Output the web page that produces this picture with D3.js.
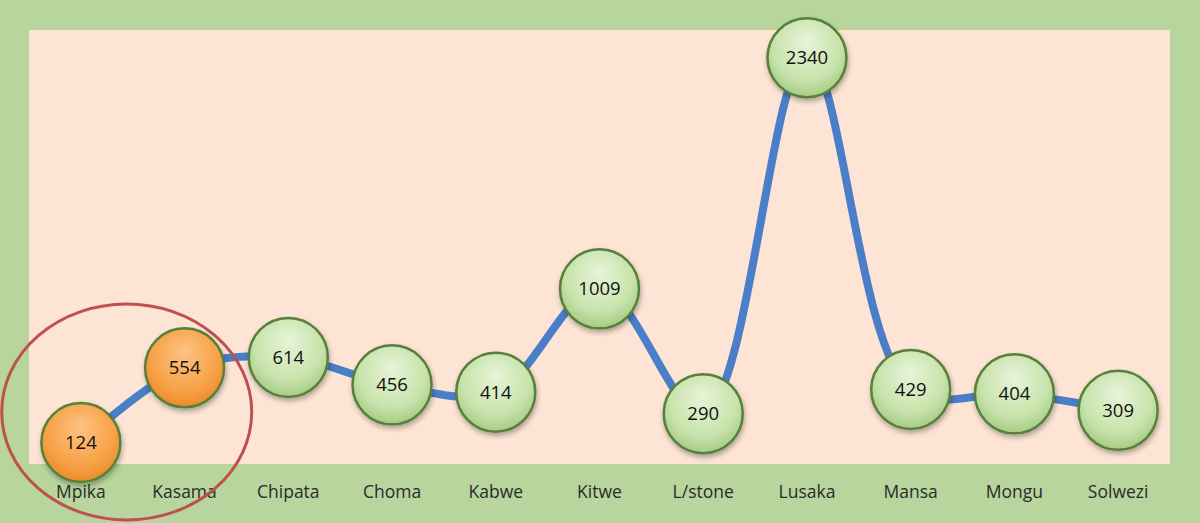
<!DOCTYPE html>
<html>
<head>
<meta charset="utf-8">
<script src="https://cdn.jsdelivr.net/npm/d3@7"></script>
<style>
  html, body { margin: 0; padding: 0; background: #b7d59d; }
  svg { display: block; }
</style>
</head>
<body>
<div id="chart"></div>
<script>
var towns = ["Mpika", "Kasama", "Chipata", "Choma", "Kabwe", "Kitwe", "L/stone", "Lusaka", "Mansa", "Mongu", "Solwezi"];
var counts = [124, 554, 614, 456, 414, 1009, 290, 2340, 429, 404, 309];
var highlighted = ["Mpika", "Kasama"];

var width = 1200, height = 523;
var plot = {left: 29, top: 30, right: 1170, bottom: 464};

var svg = d3.select("#chart")
            .append("svg")
            .attr("width", width)
            .attr("height", height);

var defs = svg.append("defs");
function ballGradient(id, light, mid, dark) {
    var g = defs.append("radialGradient")
                .attr("id", id)
                .attr("cx", "50%").attr("cy", "40%").attr("r", "60%")
                .attr("fx", "50%").attr("fy", "28%");
    g.append("stop").attr("offset", "0%").attr("stop-color", light);
    g.append("stop").attr("offset", "70%").attr("stop-color", mid);
    g.append("stop").attr("offset", "100%").attr("stop-color", dark);
}
ballGradient("greenBall", "#e8f4d9", "#c8e3ac", "#a5cc84");
ballGradient("orangeBall", "#fcc384", "#f8a247", "#ec8b28");

var shadow = defs.append("filter").attr("id", "shadow")
                .attr("x", "-30%").attr("y", "-30%").attr("width", "160%").attr("height", "160%");
shadow.append("feDropShadow")
      .attr("dx", 1).attr("dy", 3).attr("stdDeviation", 2.5)
      .attr("flood-color", "#000").attr("flood-opacity", 0.3);

// plot area
svg.append("rect")
   .attr("x", plot.left).attr("y", plot.top)
   .attr("width", plot.right - plot.left)
   .attr("height", plot.bottom - plot.top)
   .attr("fill", "#fde4d4");

var x = d3.scaleBand()
          .domain(towns)
          .range([plot.left, plot.right]);
var y = d3.scaleLinear()
          .domain([0, 2500])
          .range([plot.bottom, plot.top]);

var data = towns.map(function(t, i){ return {town: t, count: counts[i]}; });
var cx = function(d){ return x(d.town) + x.bandwidth() / 2; };

// smoothed line
var line = d3.line()
             .x(cx)
             .y(function(d){ return y(d.count); })
             .curve(d3.curveCatmullRom.alpha(0.5));

svg.append("path")
   .datum(data)
   .attr("d", line)
   .attr("fill", "none")
   .attr("stroke", "#4a7ec9")
   .attr("stroke-width", 8);

// category labels
svg.selectAll("text.cat")
   .data(data)
   .enter()
   .append("text")
   .attr("class", "cat")
   .attr("x", cx)
   .attr("y", 498)
   .attr("text-anchor", "middle")
   .attr("font-family", "'Open Sans', 'Noto Sans', sans-serif")
   .attr("font-size", "17.5px")
   .attr("fill", "#2b2b2b")
   .text(function(d){ return d.town; });

// markers
var g = svg.selectAll("g.pt")
           .data(data)
           .enter()
           .append("g")
           .attr("class", "pt")
           .attr("transform", function(d){ return "translate(" + cx(d) + "," + y(d.count) + ")"; });

g.append("circle")
 .attr("r", 39.5)
 .attr("fill", function(d){ return highlighted.indexOf(d.town) >= 0 ? "url(#orangeBall)" : "url(#greenBall)"; })
 .attr("stroke", "#56803a")
 .attr("stroke-width", 2.5)
 .attr("filter", "url(#shadow)");

g.append("text")
 .attr("text-anchor", "middle")
 .attr("dy", "0.35em")
 .attr("font-family", "'Open Sans', 'Noto Sans', sans-serif")
 .attr("font-size", "18.5px")
 .attr("fill", "#111")
 .text(function(d){ return d.count; });

// highlight ring around the first two towns
var first = data[0], second = data[1];
svg.append("ellipse")
   .attr("cx", (cx(first) + cx(second)) / 2 - 6)
   .attr("cy", 412)
   .attr("rx", 125)
   .attr("ry", 108)
   .attr("fill", "none")
   .attr("stroke", "#c0504d")
   .attr("stroke-width", 3);
</script>
</body>
</html>
